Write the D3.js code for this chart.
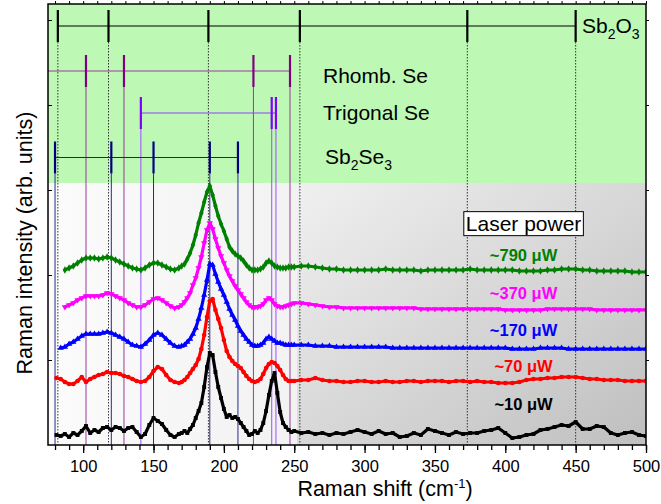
<!DOCTYPE html>
<html>
<head>
<meta charset="utf-8">
<script src="https://cdn.jsdelivr.net/npm/d3@7"></script>
<style>
body { margin: 0; background: #fff; }
text { font-family: Arial, "Liberation Sans", sans-serif; }
</style>
</head>
<body>
<svg id="chart" width="661" height="504"></svg>
<script>
// Raman shift grid (cm-1)
var shift = [81,84,87,90,93,96,99,102,105,108,111,114,117,120,123,126,129,132,135,138,141,144,147,150,153,156,159,162,165,168,
  170,172,174,176,178,180,182,184,186,188,190,192,194,196,198,200,202,204,206,208,210,212,214,216,218,220,222,224,226,228,230,232,234,236,238,240,242,244,246,248,250,
  255,260,265,270,275,280,285,290,295,300,305,310,315,320,325,330,335,340,345,350,355,360,365,370,375,380,385,390,395,400,405,410,415,420,425,430,435,440,445,450,455,460,465,470,475,480,485,490,495,500];

// intensities, arb. units (already offset per curve)
var p790 = [null,null,175,177,179,182,185,187,187,187,186,187,188,187,185,183,181,179,177,176,175,177,180,182,182,180,178,176,175,177,
  179,181,186,192,200,210,222,232,243,253,259,250,239,229,221,214,206,198,194,191,189,187,184,180,177,175,175,175,176,178,182,184,182,179,178,177,177,177,178,178,178,
  179,179,178,177,176,176,175,175,175,175,175,175,176,175,175,175,175,174,175,175,175,175,175,175,176,175,175,175,175,175,175,174,174,174,174,175,175,176,176,176,175,175,174,174,174,174,174,173,173,173];
var p370 = [null,null,138,140,142,145,147,149,149,149,149,150,152,151,149,147,145,142,140,138,138,140,143,146,147,145,142,139,137,138,
  140,143,147,152,160,167,177,188,202,215,222,216,206,197,189,182,175,169,164,159,155,151,147,143,140,138,138,138,139,141,145,147,145,141,139,138,138,139,140,141,142,
  142,141,140,139,138,138,137,137,137,137,137,137,137,137,137,137,137,136,136,136,136,136,136,136,136,136,136,136,136,135,135,135,135,135,135,136,136,136,136,136,136,136,135,135,135,135,135,135,135,135];
var p170 = [null,97,98,101,103,106,109,111,111,111,111,112,113,112,110,108,106,103,100,99,98,101,105,110,112,110,106,102,99,98,
  99,100,103,106,111,117,126,137,150,165,181,180,171,163,156,150,143,136,130,125,119,114,110,106,103,100,99,99,100,102,106,108,106,104,102,102,101,100,100,100,100,
  100,100,99,99,99,98,98,98,98,98,98,98,98,97,97,97,97,97,97,97,97,97,97,97,97,97,97,97,97,97,96,96,96,96,97,97,97,97,96,96,96,96,96,96,96,96,96,96,96,96];
var p70 = [67,66,63,61,61,64,68,63,66,68,70,71,73,72,72,71,69,68,66,64,63,64,68,74,78,76,70,65,63,62,
  63,65,68,72,76,80,86,96,110,128,144,146,135,126,117,105,94,88,84,81,79,77,73,69,66,64,63,64,66,71,77,81,83,82,79,75,70,66,64,64,64,
  65,65,67,65,64,64,63,63,64,64,63,63,64,63,63,64,64,63,64,64,64,63,64,64,63,64,63,63,62,62,62,63,65,66,66,67,67,68,68,68,67,66,66,65,65,65,64,64,64,64];
var p10 = [10,9,11,8,12,10,14,19,12,15,13,17,18,15,18,17,14,17,18,13,8,11,20,27,24,21,15,10,8,11,
  12,14,12,16,20,27,34,42,58,78,92,90,73,58,47,36,28,30,27,28,26,22,18,14,10,11,14,12,15,22,34,50,64,72,52,33,22,18,15,13,14,
  12,13,11,12,10,12,11,13,15,13,11,14,11,12,8,9,12,10,16,14,12,10,13,11,12,12,14,15,17,12,7,8,10,11,15,16,18,20,19,23,16,16,19,18,12,10,12,13,10,9];

var powerLabels = ["~790 \u03bcW", "~370 \u03bcW", "~170 \u03bcW", "~70 \u03bcW", "~10 \u03bcW"];
var powerColors = ["#008000", "#ff00ff", "#0000ff", "#ff0000", "#000000"];

// reference band positions (cm-1)
var sb2o3Pos = [82, 118, 189, 254, 373, 450];
var rhombSePos = [102, 129, 221, 247];
var trigSePos = [141, 234, 237];
var sb2se3Pos = [80, 120, 150, 190, 210];

var xTicks = [100, 150, 200, 250, 300, 350, 400, 450, 500];

var svg = d3.select("#chart");
var L = 48, R = 646, T = 4, B = 445, greenBottom = 183;

var x = d3.scaleLinear().domain([75, 500]).range([L, R]);
var y = d3.scaleLinear().domain([0, 441]).range([B, T]);

var defs = svg.append("defs");
defs.append("clipPath").attr("id", "clip").append("rect")
    .attr("x", L).attr("y", T).attr("width", R - L).attr("height", B - T);
var g1 = defs.append("linearGradient").attr("id", "gLeft")
    .attr("x1", 0).attr("y1", 0).attr("x2", 1).attr("y2", 0);
g1.append("stop").attr("offset", 0).attr("stop-color", "#fbfbfb");
g1.append("stop").attr("offset", 1).attr("stop-color", "#f2f2f2");
var g2 = defs.append("linearGradient").attr("id", "gRight")
    .attr("x1", 0).attr("y1", 0).attr("x2", 1).attr("y2", 1);
g2.append("stop").attr("offset", 0).attr("stop-color", "#f0f0f0");
g2.append("stop").attr("offset", 1).attr("stop-color", "#bfbfbf");

// backgrounds
svg.append("rect").attr("x", L).attr("y", greenBottom).attr("width", x(252) - L).attr("height", B - greenBottom)
    .attr("fill", "url(#gLeft)");
svg.append("rect").attr("x", x(252)).attr("y", greenBottom).attr("width", R - x(252)).attr("height", B - greenBottom)
    .attr("fill", "url(#gRight)");
svg.append("rect").attr("x", L).attr("y", T).attr("width", R - L).attr("height", greenBottom - T)
    .attr("fill", "#bdf8b4");

// reference rows
var rows = [
  {pos: sb2o3Pos, yc: 26, tick: "#000", line: "#000", drop: "#333", dash: "1.5,1.5", start: d3.min(sb2o3Pos)},
  {pos: rhombSePos, yc: 71, tick: "#800080", line: "#9a3a9a", drop: "#9a3a9a", dash: null, start: 75},
  {pos: trigSePos, yc: 113, tick: "#8000ff", line: "#9040ff", drop: "#9b4dff", dash: null, start: d3.min(trigSePos)},
  {pos: sb2se3Pos, yc: 157.5, tick: "#000080", line: "#202088", drop: "#2a2a90", dash: null, start: d3.min(sb2se3Pos)}
];

var refs = svg.append("g").attr("clip-path", "url(#clip)");
rows.forEach(function(r) {
  refs.selectAll(null).data(r.pos).enter().append("line")
      .attr("x1", function(d) { return x(d); }).attr("x2", function(d) { return x(d); })
      .attr("y1", r.yc + 16).attr("y2", B)
      .attr("stroke", r.drop).attr("stroke-width", 1)
      .attr("stroke-dasharray", r.dash);
  refs.append("line")
      .attr("x1", x(r.start)).attr("x2", x(d3.max(r.pos)))
      .attr("y1", r.yc).attr("y2", r.yc)
      .attr("stroke", r.line).attr("stroke-width", 1.2);
  refs.selectAll(null).data(r.pos).enter().append("line")
      .attr("x1", function(d) { return x(d); }).attr("x2", function(d) { return x(d); })
      .attr("y1", r.yc - 16).attr("y2", r.yc + 16)
      .attr("stroke", r.tick).attr("stroke-width", 2.2);
});

// labels in the green panel
function subLabel(tx, ty, parts) {
  var t = svg.append("text").attr("x", tx).attr("y", ty).attr("font-size", 21).attr("fill", "#000");
  parts.forEach(function(p) {
    t.append("tspan").text(p[0]).attr("font-size", p[1] ? 14 : 21).attr("dy", p[2]);
  });
}
subLabel(582, 33, [["Sb", false, 0], ["2", true, 6], ["O", false, -6], ["3", true, 6]]);
svg.append("text").attr("x", 323).attr("y", 83).attr("font-size", 21).text("Rhomb. Se");
svg.append("text").attr("x", 323).attr("y", 120).attr("font-size", 21).text("Trigonal Se");
subLabel(325, 164, [["Sb", false, 0], ["2", true, 6], ["Se", false, -6], ["3", true, 6]]);

// spectra
var series = [p10, p70, p170, p370, p790];
var cols = ["#000000", "#ff0000", "#0000ff", "#ff00ff", "#008000"];
var syms = [d3.symbolSquare, d3.symbolCircle, d3.symbolTriangle, d3.symbolTriangle, d3.symbolDiamond];
var flip = [false, false, false, true, false];

var line = d3.line()
    .defined(function(d) { return d[1] != null; })
    .x(function(d) { return x(d[0]); })
    .y(function(d) { return y(d[1]); });

var plot = svg.append("g").attr("clip-path", "url(#clip)");
series.forEach(function(s, i) {
  var pts = shift.map(function(v, j) { return [v, s[j]]; });
  plot.append("path").datum(pts)
      .attr("d", line).attr("fill", "none")
      .attr("stroke", cols[i]).attr("stroke-width", 3.2).attr("stroke-linejoin", "round");
  plot.selectAll(null).data(pts.filter(function(d) { return d[1] != null; }))
      .enter().append("path")
      .attr("d", d3.symbol().type(syms[i]).size(i == 0 ? 15 : 17))
      .attr("transform", function(d) {
        return "translate(" + x(d[0]) + "," + y(d[1]) + ")" + (flip[i] ? " rotate(180)" : "");
      })
      .attr("fill", cols[i]);
});

// laser power legend
var lp = svg.append("text").attr("x", x(413)).attr("y", y(221.7)).attr("dy", "0.35em")
    .attr("text-anchor", "middle").attr("font-size", 21).text("Laser power");
var bb = lp.node().getBBox();
svg.insert("rect", function() { return lp.node(); })
    .attr("x", bb.x - 2).attr("y", bb.y).attr("width", bb.width + 4).attr("height", bb.height + 1)
    .attr("fill", "#fff").attr("stroke", "#000").attr("stroke-width", 1);

var labelY = [190, 151.7, 115, 79, 41];
powerLabels.forEach(function(t, i) {
  svg.append("text").attr("x", x(413)).attr("y", y(labelY[i])).attr("dy", "0.35em")
      .attr("text-anchor", "middle").attr("font-size", 16.5).attr("font-weight", "bold")
      .attr("fill", powerColors[i]).text(t);
});

// axes
var minor = d3.range(80, 501, 10);
svg.append("g").attr("transform", "translate(0," + B + ")")
    .call(d3.axisBottom(x).tickValues(minor).tickSize(5).tickFormat(""))
    .call(function(g) { g.select(".domain").remove(); g.selectAll("line").attr("stroke-width", 1.3); });
svg.append("g").attr("transform", "translate(0," + B + ")")
    .call(d3.axisBottom(x).tickValues(xTicks).tickSize(8).tickPadding(7))
    .call(function(g) {
      g.select(".domain").remove();
      g.selectAll("line").attr("stroke-width", 1.3);
      g.selectAll("text").attr("font-size", 16.5).attr("font-family", "Arial, 'Liberation Sans', sans-serif");
    });
svg.append("g").attr("transform", "translate(0," + T + ")")
    .call(d3.axisTop(x).tickValues(minor).tickSize(3).tickFormat(""))
    .call(function(g) { g.select(".domain").remove(); });
var yt = [85, 170, 255, 340, 425];
svg.append("g").attr("transform", "translate(" + L + ",0)")
    .call(d3.axisLeft(y).tickValues(yt).tickSize(-4).tickFormat(""))
    .call(function(g) { g.select(".domain").remove(); });
svg.append("g").attr("transform", "translate(" + R + ",0)")
    .call(d3.axisRight(y).tickValues(yt).tickSize(3).tickFormat(""))
    .call(function(g) { g.select(".domain").remove(); });

svg.append("rect").attr("x", L).attr("y", T).attr("width", R - L).attr("height", B - T)
    .attr("fill", "none").attr("stroke", "#000").attr("stroke-width", 1.5);

// axis titles
var xt = svg.append("text").attr("x", 385).attr("y", 496).attr("text-anchor", "middle").attr("font-size", 21.5);
xt.append("tspan").text("Raman shift (cm");
xt.append("tspan").text("-1").attr("font-size", 13).attr("dy", -8);
xt.append("tspan").text(")").attr("dy", 8);

svg.append("text").attr("transform", "translate(32,243) rotate(-90)")
    .attr("text-anchor", "middle").attr("font-size", 21.5).text("Raman intensity (arb. units)");
</script>
</body>
</html>
